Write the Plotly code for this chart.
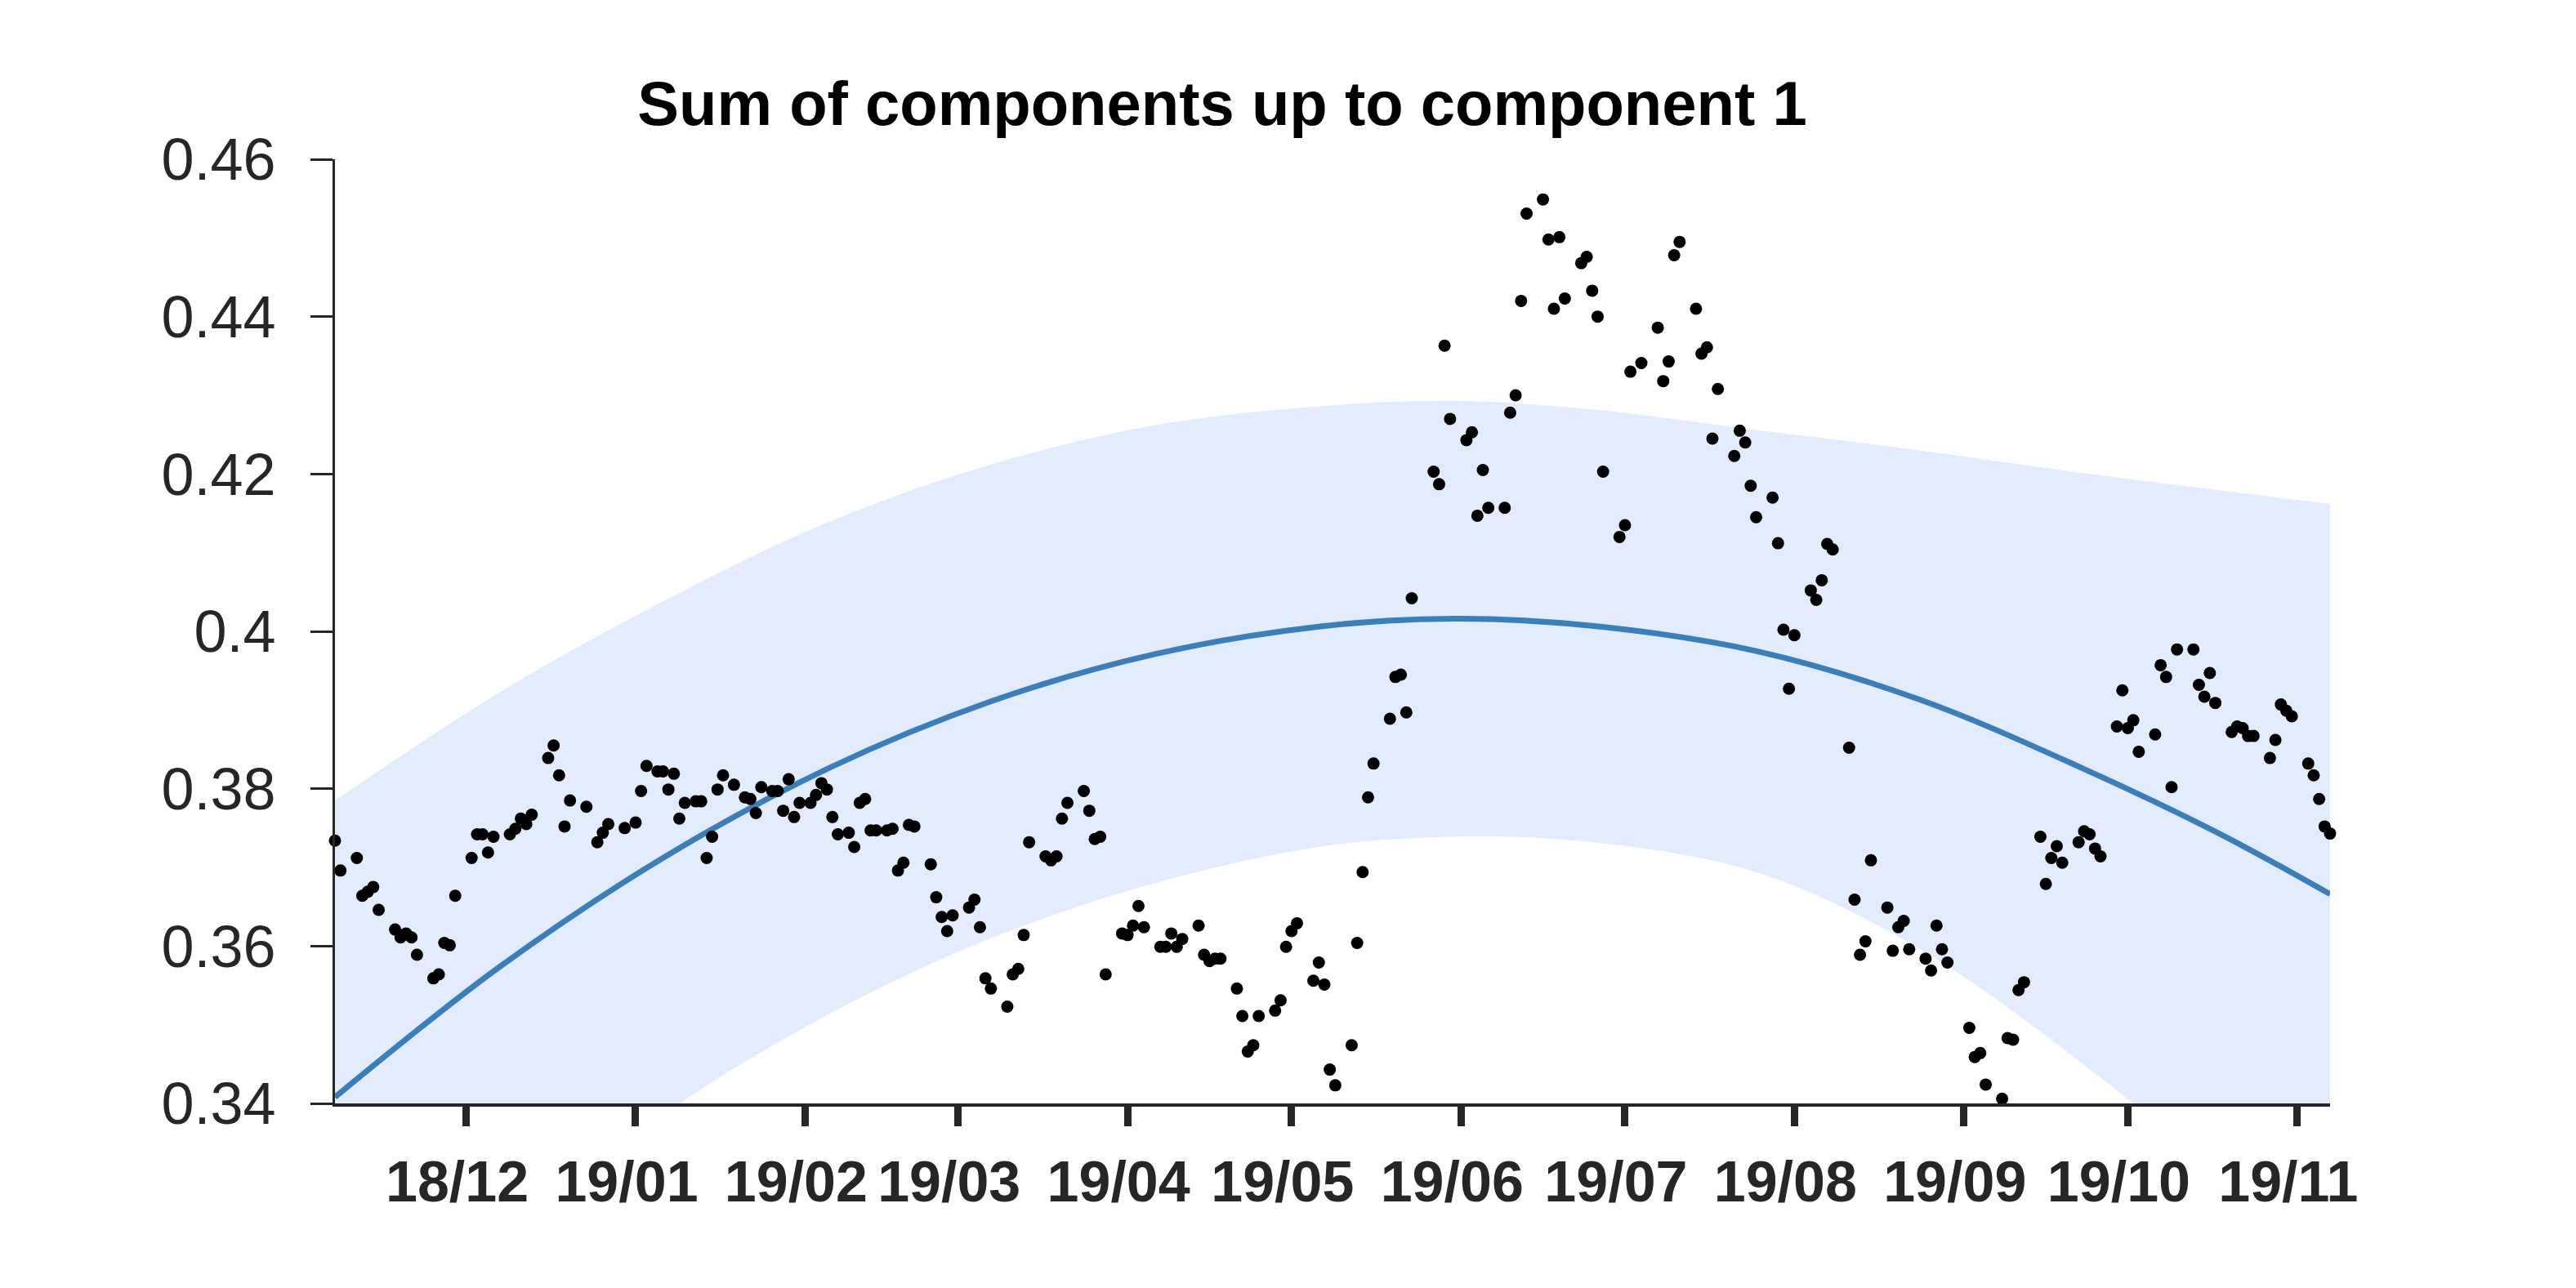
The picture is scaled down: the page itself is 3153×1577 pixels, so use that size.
import pandas as pd
import plotly.graph_objects as go

START = pd.Timestamp("2018-11-07")

# observed points: day offset from START and value
obs_days = [0,1,4,5,6,7,8,11,12,13,14,15,18,19,20,21,22,25,26,27,28,29,32,33,34,35,36,39,40,41,42,43,
            46,48,49,50,53,55,56,57,59,60,61,62,63,64,66,67,68,69,70,71,73,75,76,77,78,80,81,82,83,84,85,
            87,88,89,90,91,92,94,95,96,97,98,99,
            101,102,103,104,105,106,109,110,111,112,113,116,117,118,119,120,123,124,125,126,127,
            130,131,132,133,134,137,138,139,140,141,144,145,146,147,148,151,152,153,154,155,
            158,159,160,161,162,165,166,167,168,169,172,173,174,175,176,179,180,181,182,183,
            186,187,188,189,190,193,194,195,196,197,
            201,202,203,204,207,208,209,210,211,214,215,216,217,218,221,222,223,224,225,
            228,229,230,231,232,235,236,237,239,242,243,244,245,246,249,250,251,252,253,
            256,257,258,259,260,263,264,265,266,267,270,271,272,273,274,277,278,279,280,281,
            284,285,286,287,288,291,292,293,294,295,299,300,301,302,305,306,307,308,309,
            312,313,314,315,316,319,320,321,322,323,326,327,328,329,330,333,334,335,336,337,
            340,341,342,343,344,347,348,349,350,351,354,355,356,357,358,361,362,363,364,365]
obs_vals = [0.3734,0.3696,0.3712,0.3664,0.3669,0.3675,0.3646,0.3621,0.3611,0.3616,0.3611,0.3589,
            0.3559,0.3564,0.3604,0.3601,0.3664,0.3712,0.3742,0.3742,0.3719,0.3739,0.3742,0.3749,
            0.3762,0.3755,0.3767,0.3839,0.3855,0.3817,0.3752,0.3785,0.3777,0.3732,0.3744,0.3755,
            0.3750,0.3757,0.3797,0.3829,0.3822,0.3822,0.3799,0.3819,0.3762,0.3782,0.3784,0.3784,
            0.3712,0.3739,0.3799,0.3817,0.3805,0.3789,0.3787,0.3769,0.3802,0.3797,0.3797,0.3772,
            0.3812,0.3764,0.3782,0.3782,0.3792,0.3807,0.3799,0.3764,0.3742,0.3744,0.3726,0.3782,
            0.3787,0.3747,0.3747,
            0.3747,0.3749,0.3696,0.3706,0.3754,0.3752,0.3704,0.3662,0.3637,0.3619,0.3639,
            0.3649,0.3659,0.3624,0.3559,0.3546,0.3523,0.3564,0.3571,0.3614,0.3732,
            0.3714,0.3709,0.3714,0.3762,0.3782,0.3797,0.3772,0.3736,0.3739,0.3564,
            0.3616,0.3614,0.3626,0.3651,0.3624,0.3599,0.3599,0.3616,0.3599,0.3609,
            0.3626,0.3589,0.3581,0.3584,0.3584,0.3546,0.3511,0.3466,0.3474,0.3511,
            0.3518,0.3531,0.3599,0.3619,0.3629,0.3556,0.3579,0.3551,0.3443,0.3423,
            0.3474,0.3604,0.3694,0.3789,0.3832,0.3889,0.3942,0.3945,0.3897,0.4042,
            0.4203,0.4187,0.4363,0.4270,0.4243,0.4253,0.4147,0.4205,0.4157,
            0.4157,0.4278,0.4300,0.4420,0.4531,0.4549,0.4498,0.4410,0.4501,0.4423,
            0.4468,0.4476,0.4433,0.4400,0.4203,0.4120,0.4135,0.4330,0.4341,
            0.4386,0.4318,0.4343,0.4478,0.4495,0.4410,0.4353,0.4361,0.4245,0.4308,
            0.4223,0.4255,0.4240,0.4185,0.4145,0.4170,0.4112,0.4002,0.3927,0.3995,
            0.4052,0.4040,0.4065,0.4111,0.4104,0.3852,0.3659,0.3589,0.3606,0.3709,
            0.3649,0.3594,0.3624,0.3632,0.3596,0.3584,0.3569,0.3626,0.3596,0.3579,
            0.3496,0.3459,0.3464,0.3424,0.3406,0.3483,0.3481,0.3544,0.3554,
            0.3739,0.3679,0.3712,0.3727,0.3706,0.3732,0.3746,0.3742,0.3724,0.3714,
            0.3879,0.3925,0.3877,0.3887,0.3847,0.3869,0.3957,0.3942,0.3802,0.3977,
            0.3977,0.3932,0.3917,0.3947,0.3909,0.3872,0.3879,0.3877,0.3867,0.3867,
            0.3839,0.3862,0.3907,0.3899,0.3892,0.3832,0.3817,0.3787,0.3752,0.3743]

# fitted component and its band, read at sample days
curve_days = [0, 30, 60, 90, 120, 150, 180, 205, 230, 260, 290, 320, 345, 365]
fit_vals   = [0.3408, 0.3573, 0.3712, 0.3825, 0.3911, 0.3971, 0.4006, 0.4016, 0.4007, 0.3975,
              0.3913, 0.3825, 0.3742, 0.3666]
band_upper = [0.3785, 0.3922, 0.4038, 0.4138, 0.4212, 0.4262, 0.4286, 0.4293, 0.4282, 0.4256,
              0.4230, 0.4201, 0.4179, 0.4162]
band_lower = [0.3031, 0.3224, 0.3386, 0.3512, 0.3610, 0.3680, 0.3726, 0.3739, 0.3732, 0.3694,
              0.3596, 0.3449, 0.3305, 0.3170]

tick_dates = ["2018-12-01", "2019-01-01", "2019-02-01", "2019-03-01", "2019-04-01", "2019-05-01",
              "2019-06-01", "2019-07-01", "2019-08-01", "2019-09-01", "2019-10-01", "2019-11-01"]
tick_text = ["18/12", "19/01", "19/02", "19/03", "19/04", "19/05", "19/06", "19/07", "19/08",
             "19/09", "19/10", "19/11"]

def to_dates(days):
    return [START + pd.Timedelta(days=d) for d in days]

AX = "#262626"
FONT = "Liberation Sans, Arial, Helvetica, sans-serif"

fig = go.Figure()
fig.add_trace(go.Scatter(x=to_dates(curve_days), y=band_upper, mode="lines",
                         line=dict(width=0, shape="spline", smoothing=1.0, color="rgba(0,0,0,0)"),
                         hoverinfo="skip", showlegend=False))
fig.add_trace(go.Scatter(x=to_dates(curve_days), y=band_lower, mode="lines", fill="tonexty",
                         fillcolor="#e3ecfc",
                         line=dict(width=0, shape="spline", smoothing=1.0, color="rgba(0,0,0,0)"),
                         hoverinfo="skip", showlegend=False))
fig.add_trace(go.Scatter(x=to_dates(curve_days), y=fit_vals, mode="lines",
                         line=dict(color="#3a7ebc", width=7, shape="spline", smoothing=1.0),
                         showlegend=False))
fig.add_trace(go.Scatter(x=to_dates(obs_days), y=obs_vals, mode="markers",
                         marker=dict(color="black", size=15, line=dict(width=0)),
                         cliponaxis=False, showlegend=False))

fig.update_layout(
    width=3153, height=1577,
    margin=dict(l=410, r=301, t=195, b=226),
    paper_bgcolor="white", plot_bgcolor="white",
    font=dict(family=FONT, color=AX),
    title=dict(text="<b>Sum of components up to component 1</b>",
               font=dict(family=FONT, size=76, color="black"),
               x=1496 / 3153, xref="container", xanchor="center",
               y=1 - 126 / 1577, yref="container", yanchor="middle"),
    xaxis=dict(range=[START, START + pd.Timedelta(days=365)], showgrid=False, zeroline=False,
               showline=True, linecolor=AX, linewidth=4,
               ticks="outside", ticklen=24, tickwidth=9, tickcolor=AX,
               tickmode="array", tickvals=tick_dates, ticktext=tick_text,
               tickfont=dict(family=FONT, size=70, color=AX, weight="bold"),
               ticklabelstandoff=8, ticklabelshift=-11),
    yaxis=dict(range=[0.34, 0.46], showgrid=False, zeroline=False,
               showline=True, linecolor=AX, linewidth=3,
               ticks="outside", ticklen=27, tickwidth=3, tickcolor=AX,
               tickmode="array", tickvals=[0.34, 0.36, 0.38, 0.40, 0.42, 0.44, 0.46],
               ticktext=["0.34", "0.36", "0.38", "0.4", "0.42", "0.44", "0.46"],
               tickfont=dict(family=FONT, size=72, color=AX),
               ticklabelstandoff=28),
)

fig.write_html("out.html")
